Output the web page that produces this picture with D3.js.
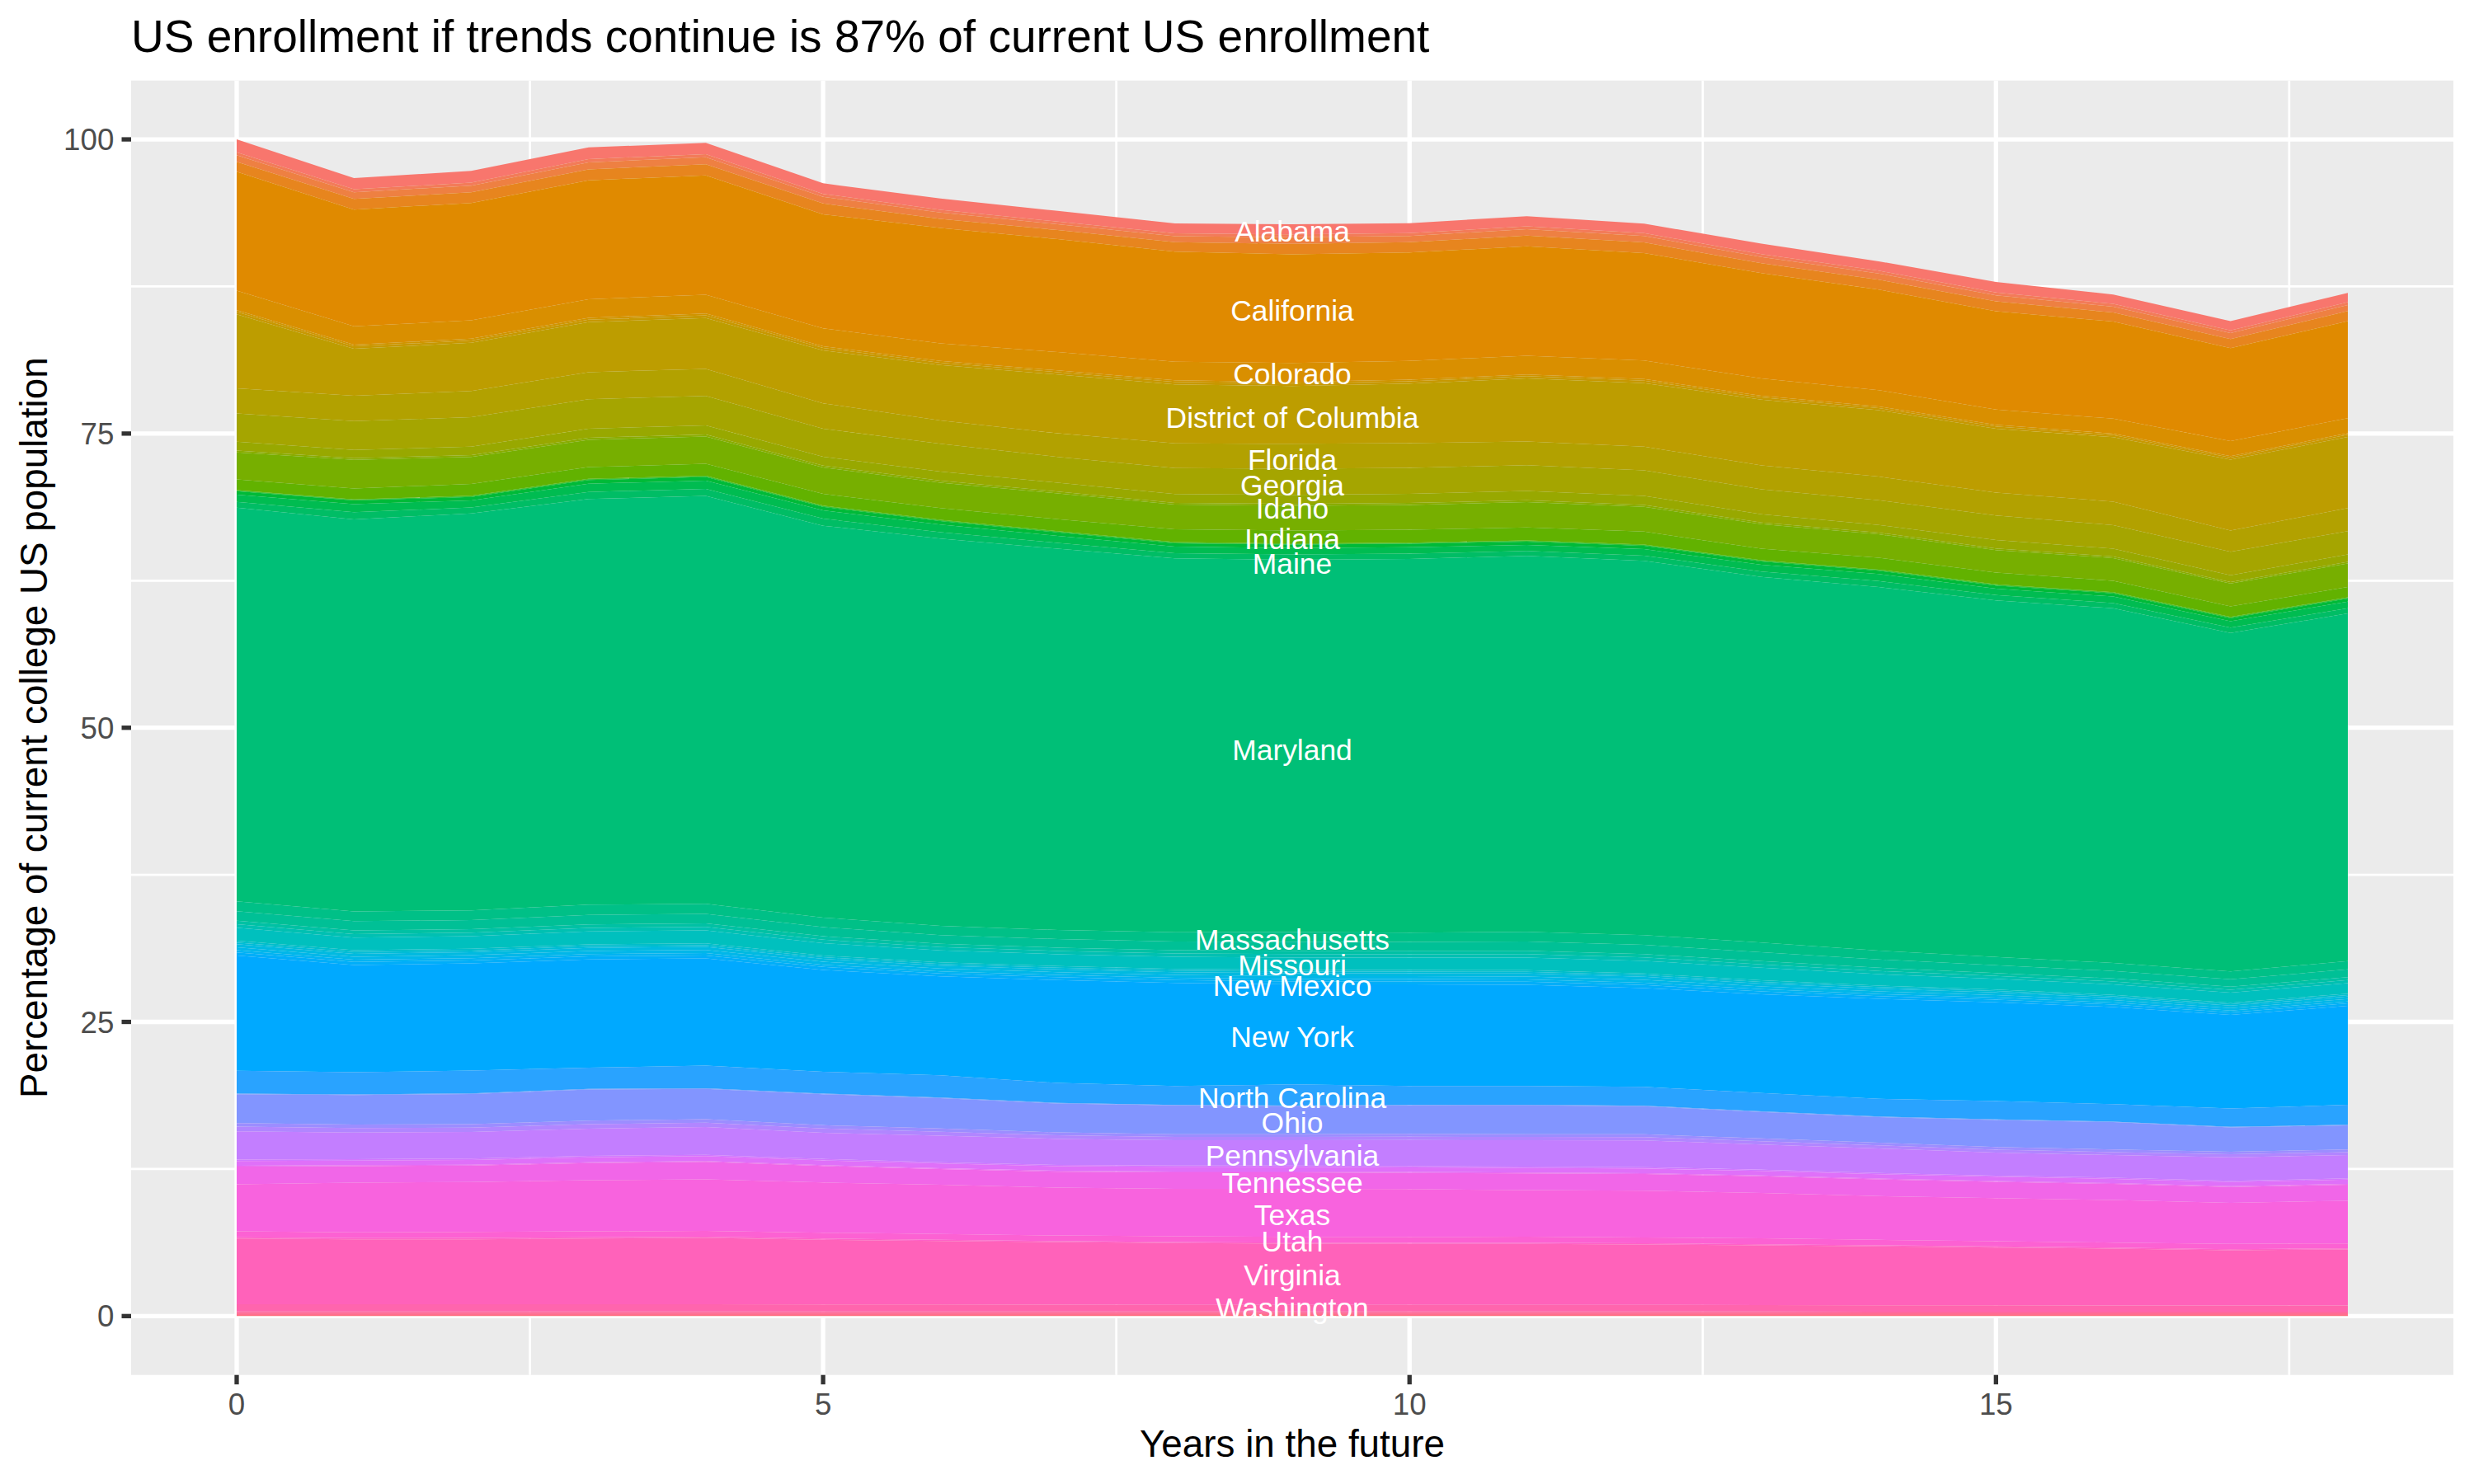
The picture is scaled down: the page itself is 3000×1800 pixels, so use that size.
<!DOCTYPE html>
<html>
<head>
<meta charset="utf-8">
<script src="https://cdn.jsdelivr.net/npm/d3@7"></script>
<style>
  html, body { margin: 0; padding: 0; background: #ffffff; }
  svg text { font-family: "Liberation Sans", Arial, Helvetica, sans-serif; }
</style>
</head>
<body>
<div id="vis"></div>
<script>
// years in the future (x axis)
var years = [0,1,2,3,4,5,6,7,8,9,10,11,12,13,14,15,16,17,18];

// percentage of current college US population, one array per state
var alabama       = [1.1,0.95,1.0,1.0,0.95,0.9,0.95,0.9,0.85,0.85,0.85,0.85,0.8,0.9,0.8,0.9,0.8,0.8,0.8];
var alaska        = [0.25,0.25,0.25,0.27,0.27,0.25,0.24,0.23,0.23,0.25,0.24,0.25,0.25,0.24,0.24,0.24,0.23,0.22,0.23];
var arizona       = [0.55,0.57,0.57,0.6,0.6,0.57,0.53,0.5,0.52,0.55,0.53,0.55,0.55,0.53,0.52,0.52,0.5,0.5,0.52];
var arkansas      = [0.85,0.9,0.9,0.93,0.94,0.92,0.78,0.77,0.8,0.9,0.88,0.9,0.9,0.83,0.84,0.84,0.77,0.78,0.85];
var california    = [10.11,9.93,9.98,10.1,10.14,9.69,9.8,9.6,9.36,9.23,9.2,9.3,9.13,8.96,8.55,8.35,8.25,7.9,8.25];
var colorado      = [1.65,1.55,1.56,1.58,1.6,1.52,1.5,1.55,1.58,1.62,1.6,1.6,1.58,1.46,1.38,1.3,1.27,1.27,1.28];
var connecticut   = [0.15,0.15,0.15,0.16,0.16,0.15,0.15,0.15,0.14,0.14,0.14,0.14,0.14,0.14,0.14,0.13,0.13,0.13,0.13];
var delaware      = [0.2,0.2,0.2,0.22,0.22,0.2,0.2,0.2,0.2,0.2,0.2,0.2,0.2,0.2,0.19,0.19,0.18,0.18,0.19];
var dc            = [6.29,4.0,4.09,4.24,4.32,4.5,4.7,5.0,5.02,4.91,5.06,5.36,5.4,5.58,5.64,5.43,5.47,6.02,6.05];
var florida       = [2.15,2.15,2.23,2.3,2.3,2.15,1.98,2.0,2.1,2.12,2.1,2.0,2.02,2.03,2.0,1.96,2.0,1.8,1.95];
var georgia       = [2.4,2.45,2.5,2.5,2.5,2.39,2.37,2.2,2.2,2.22,2.2,2.2,2.17,2.13,2.1,2.07,2.0,2.0,1.98];
var hawaii        = [0.75,0.7,0.72,0.78,0.78,0.75,0.78,0.75,0.75,0.77,0.78,0.78,0.77,0.7,0.66,0.72,0.66,0.58,0.64];
var idaho         = [0.15,0.15,0.15,0.17,0.17,0.16,0.17,0.15,0.15,0.16,0.17,0.17,0.16,0.14,0.14,0.15,0.14,0.12,0.13];
var illinois      = [2.3,2.42,2.3,2.32,2.32,2.25,2.15,2.2,2.1,2.1,2.1,2.15,2.1,2.09,2.0,1.9,1.94,1.94,2.0];
var indiana       = [0.9,0.93,1.0,1.0,1.02,1.0,1.0,1.02,1.08,1.1,1.1,1.1,1.1,0.98,1.0,1.0,0.96,0.9,0.88];
var iowa          = [0.05,0.05,0.05,0.05,0.05,0.05,0.05,0.05,0.05,0.05,0.05,0.05,0.05,0.05,0.05,0.05,0.05,0.05,0.05];
var kansas        = [0.05,0.05,0.05,0.05,0.05,0.05,0.05,0.05,0.05,0.05,0.05,0.05,0.05,0.05,0.05,0.05,0.05,0.05,0.05];
var kentucky      = [0.3,0.3,0.3,0.31,0.31,0.3,0.3,0.29,0.29,0.29,0.29,0.29,0.29,0.28,0.28,0.27,0.27,0.26,0.27];
var louisiana     = [0.6,0.7,0.6,0.7,0.7,0.7,0.65,0.6,0.55,0.55,0.55,0.5,0.55,0.57,0.6,0.55,0.55,0.55,0.55];
var maine         = [0.5,0.6,0.5,0.6,0.6,0.6,0.55,0.5,0.45,0.45,0.45,0.42,0.45,0.47,0.5,0.45,0.45,0.45,0.45];
var maryland      = [33.45,33.32,33.75,34.48,34.66,33.3,32.9,32.4,31.77,31.63,31.75,31.95,31.8,31.06,30.9,30.3,30.14,28.77,29.55];
var massachusetts = [0.85,0.83,0.82,0.86,0.86,0.82,0.79,0.77,0.79,0.82,0.8,0.83,0.83,0.82,0.75,0.7,0.68,0.67,0.7];
var michigan      = [0.8,0.79,0.77,0.81,0.81,0.77,0.74,0.73,0.74,0.77,0.75,0.78,0.78,0.77,0.71,0.66,0.64,0.63,0.66];
var minnesota     = [0.3,0.3,0.3,0.3,0.3,0.29,0.28,0.28,0.28,0.29,0.29,0.29,0.29,0.28,0.27,0.25,0.25,0.25,0.25];
var mississippi   = [0.3,0.3,0.3,0.3,0.3,0.29,0.28,0.28,0.28,0.29,0.29,0.29,0.29,0.28,0.27,0.25,0.25,0.25,0.25];
var missouri      = [1.1,1.08,1.06,1.1,1.1,1.06,1.02,1.0,1.02,1.05,1.04,1.08,1.08,1.06,0.97,0.9,0.89,0.86,0.9];
var montana       = [0.15,0.15,0.15,0.15,0.15,0.14,0.14,0.14,0.14,0.14,0.14,0.14,0.14,0.14,0.13,0.13,0.12,0.12,0.12];
var nebraska      = [0.15,0.15,0.15,0.15,0.15,0.14,0.14,0.14,0.14,0.14,0.14,0.14,0.14,0.14,0.13,0.13,0.12,0.12,0.12];
var nevada        = [0.25,0.25,0.25,0.26,0.26,0.25,0.24,0.24,0.24,0.25,0.25,0.25,0.25,0.24,0.23,0.22,0.21,0.21,0.21];
var newHampshire  = [0.25,0.25,0.25,0.26,0.26,0.25,0.24,0.24,0.24,0.25,0.25,0.25,0.25,0.24,0.23,0.22,0.21,0.21,0.21];
var newJersey     = [0.2,0.2,0.2,0.2,0.2,0.19,0.19,0.19,0.19,0.2,0.2,0.2,0.2,0.19,0.18,0.17,0.17,0.17,0.17];
var newMexico     = [0.25,0.25,0.25,0.26,0.26,0.25,0.24,0.24,0.24,0.25,0.25,0.25,0.25,0.24,0.23,0.22,0.21,0.21,0.21];
var newYork       = [9.8,9.12,9.1,9.2,9.1,8.65,8.4,8.75,8.77,8.5,8.64,8.6,8.4,8.4,8.5,8.4,8.25,7.95,8.4];
var northCarolina = [1.95,1.88,1.95,1.8,1.93,1.86,1.9,1.7,1.6,1.8,1.6,1.6,1.6,1.55,1.5,1.55,1.48,1.55,1.7];
var northDakota   = [0.05,0.05,0.05,0.05,0.05,0.05,0.05,0.05,0.05,0.05,0.05,0.05,0.05,0.05,0.05,0.05,0.05,0.05,0.05];
var ohio          = [2.45,2.51,2.55,2.65,2.57,2.64,2.58,2.45,2.44,2.38,2.41,2.45,2.38,2.25,2.17,2.3,2.32,2.08,2.05];
var oklahoma      = [0.3,0.3,0.3,0.3,0.3,0.28,0.27,0.25,0.24,0.24,0.24,0.24,0.24,0.24,0.23,0.22,0.22,0.21,0.22];
var oregon        = [0.4,0.38,0.38,0.38,0.38,0.36,0.34,0.3,0.28,0.28,0.28,0.28,0.28,0.28,0.27,0.26,0.26,0.25,0.26];
var pennsylvania  = [2.4,2.26,2.25,2.32,2.35,2.23,2.26,2.21,2.15,2.15,2.22,2.24,2.28,2.13,2.08,1.95,1.92,2.01,1.98];
var rhodeIsland   = [0.12,0.12,0.12,0.12,0.12,0.12,0.11,0.11,0.11,0.11,0.11,0.11,0.11,0.11,0.1,0.1,0.1,0.1,0.1];
var southCarolina = [0.4,0.4,0.4,0.41,0.41,0.4,0.39,0.39,0.39,0.39,0.39,0.39,0.39,0.38,0.37,0.36,0.36,0.35,0.36];
var southDakota   = [0.08,0.08,0.08,0.08,0.08,0.08,0.08,0.08,0.08,0.08,0.08,0.08,0.08,0.08,0.07,0.07,0.07,0.07,0.07];
var tennessee     = [1.5,1.4,1.4,1.45,1.48,1.4,1.32,1.36,1.4,1.4,1.38,1.41,1.42,1.42,1.42,1.38,1.37,1.34,1.37];
var texas         = [4.0,4.22,4.24,4.35,4.38,4.26,4.2,4.06,4.03,4.08,4.06,3.96,3.97,3.85,3.72,3.66,3.61,3.49,3.62];
var utah          = [0.5,0.49,0.51,0.5,0.49,0.5,0.49,0.47,0.48,0.48,0.5,0.52,0.49,0.5,0.46,0.45,0.43,0.45,0.43];
var vermont       = [0.1,0.1,0.11,0.1,0.1,0.1,0.1,0.09,0.09,0.1,0.1,0.1,0.1,0.1,0.09,0.09,0.09,0.09,0.09];
var virginia      = [5.6,5.53,5.53,5.6,5.65,5.5,5.4,5.32,5.25,5.19,5.17,5.17,5.14,5.07,5.01,4.92,4.83,4.7,4.76];
var washington    = [0.6,0.6,0.6,0.6,0.6,0.59,0.58,0.57,0.56,0.56,0.56,0.56,0.55,0.54,0.54,0.53,0.52,0.52,0.52];
var westVirginia  = [0.15,0.15,0.15,0.15,0.15,0.15,0.15,0.15,0.15,0.15,0.15,0.15,0.15,0.15,0.14,0.14,0.14,0.14,0.14];
var wisconsin     = [0.15,0.15,0.15,0.15,0.15,0.15,0.15,0.15,0.15,0.15,0.15,0.15,0.15,0.15,0.14,0.14,0.14,0.14,0.14];
var wyoming       = [0.1,0.1,0.1,0.1,0.1,0.1,0.1,0.1,0.1,0.1,0.1,0.1,0.1,0.1,0.1,0.1,0.1,0.1,0.1];

var states = ["Alabama","Alaska","Arizona","Arkansas","California","Colorado","Connecticut","Delaware",
  "District of Columbia","Florida","Georgia","Hawaii","Idaho","Illinois","Indiana","Iowa","Kansas",
  "Kentucky","Louisiana","Maine","Maryland","Massachusetts","Michigan","Minnesota","Mississippi",
  "Missouri","Montana","Nebraska","Nevada","New Hampshire","New Jersey","New Mexico","New York",
  "North Carolina","North Dakota","Ohio","Oklahoma","Oregon","Pennsylvania","Rhode Island",
  "South Carolina","South Dakota","Tennessee","Texas","Utah","Vermont","Virginia","Washington",
  "West Virginia","Wisconsin","Wyoming"];
var series = [alabama,alaska,arizona,arkansas,california,colorado,connecticut,delaware,
  dc,florida,georgia,hawaii,idaho,illinois,indiana,iowa,kansas,
  kentucky,louisiana,maine,maryland,massachusetts,michigan,minnesota,mississippi,
  missouri,montana,nebraska,nevada,newHampshire,newJersey,newMexico,newYork,
  northCarolina,northDakota,ohio,oklahoma,oregon,pennsylvania,rhodeIsland,
  southCarolina,southDakota,tennessee,texas,utah,vermont,virginia,washington,
  westVirginia,wisconsin,wyoming];

// state labels drawn at year 9, with the height they sit at in the picture
var labelYear = 9;
var labelNames  = ["Alabama","California","Colorado","District of Columbia","Florida","Georgia","Idaho",
  "Indiana","Maine","Maryland","Massachusetts","Missouri","New Mexico","New York","North Carolina",
  "Ohio","Pennsylvania","Tennessee","Texas","Utah","Virginia","Washington"];
var labelValues = [92.2,85.5,80.1,76.4,72.8,70.65,68.65,66.05,63.95,48.1,32.05,29.85,28.1,23.75,18.6,
  16.5,13.65,11.35,8.6,6.35,3.5,0.7];

var xTicks = [0,5,10,15];
var xMinor = [2.5,7.5,12.5,17.5];
var yTicks = [0,25,50,75,100];
var yMinor = [12.5,37.5,62.5,87.5];

var titleText = "US enrollment if trends continue is 87% of current US enrollment";
var xTitle = "Years in the future";
var yTitle = "Percentage of current college US population";

// ggplot-like hue palette: polar LUV -> sRGB
function hclLuv(h, c, l){
  var xn = 95.047, yn = 100.0, zn = 108.883;
  var un = 4*xn/(xn+15*yn+3*zn), vn = 9*yn/(xn+15*yn+3*zn);
  var hr = h*Math.PI/180;
  var U = c*Math.cos(hr), V = c*Math.sin(hr);
  var Y = l > 8 ? yn*Math.pow((l+16)/116,3) : yn*l/903.3;
  var u = U/(13*l)+un, v = V/(13*l)+vn;
  var X = 9.0*Y*u/(4*v);
  var Z = -X/3 - 5*Y + 3*Y/v;
  X/=100; Y/=100; Z/=100;
  var r =  3.240479*X - 1.537150*Y - 0.498535*Z;
  var g = -0.969256*X + 1.875992*Y + 0.041556*Z;
  var b =  0.055648*X - 0.204043*Y + 1.057311*Z;
  function gam(t){ t = t <= 0.0031308 ? 12.92*t : 1.055*Math.pow(t,1/2.4)-0.055; return Math.round(255*Math.max(0,Math.min(1,t))); }
  return d3.rgb(gam(r), gam(g), gam(b)).formatHex();
}
var n = states.length;
var colors = states.map(function(s,i){ return hclLuv(15 + i*360/n, 100, 65); });
var color = d3.scaleOrdinal().domain(states).range(colors);

var W = 3000, H = 1800;
var panel = {left:159, right:2975, top:97.7, bottom:1667.7};

var svg = d3.select("#vis").append("svg").attr("width",W).attr("height",H);
svg.append("rect").attr("width",W).attr("height",H).attr("fill","#ffffff");

var x = d3.scaleLinear().domain([-0.9,18.9]).range([panel.left,panel.right]);
var y = d3.scaleLinear().domain([-5,105]).range([panel.bottom,panel.top]);

// panel + grid
svg.append("rect").attr("x",panel.left).attr("y",panel.top)
   .attr("width",panel.right-panel.left).attr("height",panel.bottom-panel.top)
   .attr("fill","#EBEBEB");
var grid = svg.append("g").attr("id","grid");
grid.selectAll(".xminor").data(xMinor).enter().append("line")
   .attr("x1",x).attr("x2",x).attr("y1",panel.top).attr("y2",panel.bottom)
   .attr("stroke","#ffffff").attr("stroke-width",2.7);
grid.selectAll(".yminor").data(yMinor).enter().append("line")
   .attr("y1",y).attr("y2",y).attr("x1",panel.left).attr("x2",panel.right)
   .attr("stroke","#ffffff").attr("stroke-width",2.7);
grid.selectAll(".xmajor").data(xTicks).enter().append("line")
   .attr("x1",x).attr("x2",x).attr("y1",panel.top).attr("y2",panel.bottom)
   .attr("stroke","#ffffff").attr("stroke-width",5.3);
grid.selectAll(".ymajor").data(yTicks).enter().append("line")
   .attr("y1",y).attr("y2",y).attr("x1",panel.left).attr("x2",panel.right)
   .attr("stroke","#ffffff").attr("stroke-width",5.3);

// stacked areas, first state on top
var rows = years.map(function(yr,i){
  var row = {year: yr};
  states.forEach(function(s,k){ row[s] = series[k][i]; });
  return row;
});
var stack = d3.stack().keys(states).order(d3.stackOrderReverse);
var layers = stack(rows);

var area = d3.area()
  .x(function(d){ return x(d.data.year); })
  .y0(function(d){ return y(d[0]); })
  .y1(function(d){ return y(d[1]); });

svg.append("g").attr("id","areasg").selectAll("path")
   .data(layers)
   .enter().append("path")
   .attr("d", area)
   .attr("fill", function(d){ return color(d.key); })
   .append("title").text(function(d){ return d.key; });

// labels
var labelSize = 35.4;
svg.append("g").attr("id","labelsg").selectAll("text")
   .data(labelNames)
   .enter().append("text")
   .attr("x", x(labelYear))
   .attr("y", function(d,i){ return y(labelValues[i]) + 0.358*labelSize; })
   .attr("text-anchor","middle")
   .attr("font-size",labelSize)
   .attr("fill","#ffffff")
   .text(function(d){ return d; });

// axes
var tickLen = 11.5, tickSize = 36.7;
var axes = svg.append("g").attr("id","axesg");
axes.selectAll(".yt").data(yTicks).enter().append("line")
   .attr("x1",panel.left-tickLen).attr("x2",panel.left).attr("y1",y).attr("y2",y)
   .attr("stroke","#333333").attr("stroke-width",5.3);
axes.selectAll(".ytl").data(yTicks).enter().append("text")
   .attr("x",panel.left-tickLen-9.2).attr("y",function(d){ return y(d)+0.358*tickSize; })
   .attr("text-anchor","end").attr("font-size",tickSize).attr("fill","#4D4D4D")
   .text(function(d){ return d; });
axes.selectAll(".xt").data(xTicks).enter().append("line")
   .attr("x1",x).attr("x2",x).attr("y1",panel.bottom).attr("y2",panel.bottom+tickLen)
   .attr("stroke","#333333").attr("stroke-width",5.3);
axes.selectAll(".xtl").data(xTicks).enter().append("text")
   .attr("x",x).attr("y",panel.bottom+tickLen+9.2+0.716*tickSize+1)
   .attr("text-anchor","middle").attr("font-size",tickSize).attr("fill","#4D4D4D")
   .text(function(d){ return d; });

// titles
svg.append("text").attr("x",(panel.left+panel.right)/2).attr("y",1767)
   .attr("text-anchor","middle").attr("font-size",45.8).attr("fill","#000000").text(xTitle);
svg.append("text").attr("transform","translate(57," + ((panel.top+panel.bottom)/2) + ") rotate(-90)")
   .attr("text-anchor","middle").attr("font-size",45.8).attr("fill","#000000").text(yTitle);
svg.append("text").attr("x",panel.left).attr("y",63)
   .attr("font-size",55).attr("fill","#000000").text(titleText);
</script>
</body>
</html>
